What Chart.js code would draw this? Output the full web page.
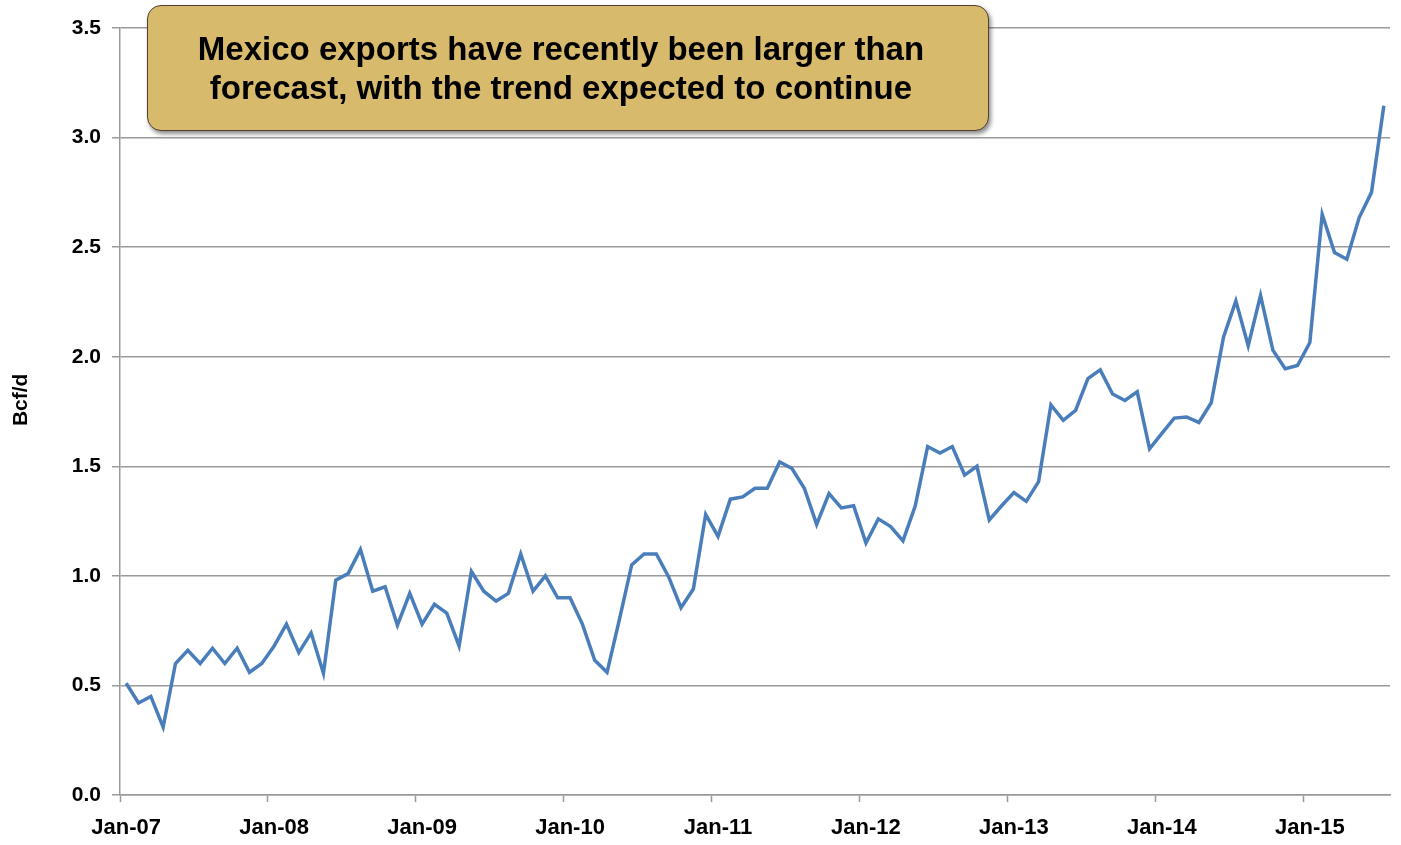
<!DOCTYPE html>
<html>
<head>
<meta charset="utf-8">
<script src="https://cdn.jsdelivr.net/npm/chart.js@4"></script>
<style>
  body { margin: 0; background: #fff; }
  #wrap { position: relative; width: 1401px; height: 845px; }
  #note {
    position: absolute; left: 147px; top: 5px; width: 826px; height: 124px;
    padding-right: 14px;
    background: #d8ba6c; border: 1.5px solid #4d4030; border-radius: 14px;
    box-shadow: 2px 3px 4px rgba(0,0,0,0.45);
    font-family: "Liberation Sans", Arial, sans-serif; font-weight: bold;
    font-size: 33px; line-height: 39px; color: #000; text-align: center;
    display: flex; align-items: center; justify-content: center;
  }
</style>
</head>
<body>
<div id="wrap">
  <canvas id="chart" width="1401" height="845"></canvas>
  <div id="note"><div>Mexico exports have recently been larger than<br>forecast, with the trend expected to continue</div></div>
</div>
<script>
var month_names = ["Jan","Feb","Mar","Apr","May","Jun","Jul","Aug","Sep","Oct","Nov","Dec"];
var years = ["07","08","09","10","11","12","13","14","15"];

// Bcf/d, monthly Jan-07 .. Jul-15
var exports_2007 = [0.51,0.42,0.45,0.31,0.60,0.66,0.60,0.67,0.60,0.67,0.56,0.60];
var exports_2008 = [0.68,0.78,0.65,0.74,0.555,0.98,1.01,1.12,0.93,0.95,0.775,0.92];
var exports_2009 = [0.78,0.87,0.83,0.68,1.02,0.93,0.885,0.92,1.10,0.93,1.00,0.90];
var exports_2010 = [0.90,0.78,0.615,0.56,0.80,1.05,1.10,1.10,0.995,0.855,0.94,1.28];
var exports_2011 = [1.18,1.35,1.36,1.40,1.40,1.52,1.49,1.40,1.235,1.375,1.31,1.32];
var exports_2012 = [1.15,1.26,1.225,1.16,1.32,1.59,1.56,1.59,1.46,1.50,1.255,1.32];
var exports_2013 = [1.38,1.34,1.43,1.78,1.71,1.755,1.90,1.94,1.83,1.80,1.84,1.58];
var exports_2014 = [1.65,1.72,1.725,1.70,1.79,2.09,2.255,2.05,2.28,2.03,1.945,1.96];
var exports_2015 = [2.065,2.65,2.475,2.445,2.635,2.75,3.145];

var values = [].concat(exports_2007, exports_2008, exports_2009, exports_2010,
  exports_2011, exports_2012, exports_2013, exports_2014, exports_2015);

var labels = [];
for (var i = 0; i < values.length; i++) {
  labels.push(month_names[i % 12] + "-" + years[Math.floor(i / 12)]);
}

var font = "'Liberation Sans', Arial, sans-serif";
var gridColor = "#9a9a9a";

var ctx = document.getElementById("chart");
var myChart = new Chart(ctx, {
  type: 'line',
  data: {
    labels: labels,
    datasets: [{
      data: values,
      borderColor: "#4a7ebb",
      borderWidth: 3.5,
      pointRadius: 0,
      tension: 0,
      fill: false
    }]
  },
  options: {
    responsive: false,
    animation: false,
    layout: { padding: { top: 28, right: 11, left: 0, bottom: 0 } },
    plugins: { legend: { display: false }, tooltip: { enabled: false } },
    scales: {
      x: {
        offset: true,
        grid: {
          offset: true,
          drawOnChartArea: false,
          tickLength: 7,
          tickWidth: 1.5,
          tickColor: function(c) { return c.index % 12 === 0 ? gridColor : 'rgba(0,0,0,0)'; }
        },
        border: { color: gridColor, width: 1.5 },
        ticks: {
          autoSkip: false,
          maxRotation: 0,
          padding: 13,
          color: "#000",
          font: { family: font, size: 22, weight: 'bold' },
          callback: function(v, i) { return i % 12 === 0 ? labels[i] : ''; }
        },
        afterFit: function(s) { s.height = 50; }
      },
      y: {
        min: 0,
        max: 3.5,
        ticks: {
          stepSize: 0.5,
          padding: 11,
          color: "#000",
          font: { family: font, size: 21, weight: 'bold' },
          callback: function(v) { return v.toFixed(1); }
        },
        grid: { color: gridColor, lineWidth: 1.5, tickLength: 8 },
        border: { color: gridColor, width: 1.5 },
        title: {
          display: true,
          text: "    Bcf/d",
          color: "#000",
          padding: { top: 9, bottom: 0 },
          font: { family: font, size: 21, weight: 'bold' }
        },
        afterFit: function(s) { s.width = 120; }
      }
    }
  }
});
</script>
</body>
</html>
